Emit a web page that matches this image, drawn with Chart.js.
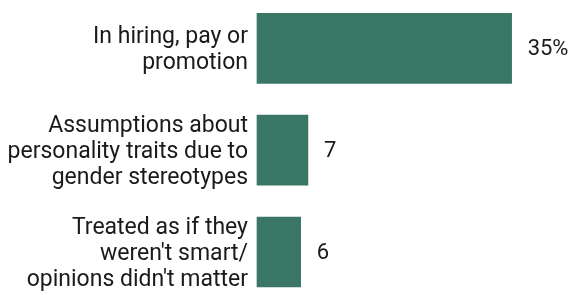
<!DOCTYPE html>
<html><head><meta charset="utf-8">
<script src="https://cdn.jsdelivr.net/npm/chart.js@4/dist/chart.umd.min.js"></script>
<style>html,body{margin:0;padding:0;background:#fff}#wrap{width:580px;height:295px}</style>
</head><body><div id="wrap"><canvas id="c" width="580" height="295"></canvas></div>
<script>
const categories = [
  ["In hiring, pay or", "promotion"],
  ["Assumptions about", "personality traits due to", "gender stereotypes"],
  ["Treated as if they", "weren't smart/", "opinions didn't matter"]
];
const values = [35, 7, 6];
const valueLabels = ["35%", "7", "6"];

const FONT = "Roboto, sans-serif";
const valuePlugin = {
  id: 'vals',
  afterDatasetsDraw(chart) {
    const ctx = chart.ctx;
    const meta = chart.getDatasetMeta(0);
    ctx.save();
    ctx.font = "22px " + FONT;
    ctx.fillStyle = "#1a1a1a";
    ctx.textAlign = "left";
    ctx.textBaseline = "middle";
    meta.data.forEach((bar, i) => {
      ctx.fillText(valueLabels[i], bar.x + 16, bar.y + 1);
    });
    ctx.restore();
  }
};

new Chart(document.getElementById('c'), {
  type: 'bar',
  data: { labels: categories, datasets: [{ data: values, backgroundColor: '#3a7666', barThickness: 70, clip: false }] },
  options: {
    indexAxis: 'y',
    responsive: false,
    animation: false,
    layout: { padding: { top: 44, bottom: 43, right: 32, left: 0 } },
    plugins: { legend: { display: false }, tooltip: { enabled: false } },
    scales: {
      x: { display: false, min: 0, max: 40 },
      y: {
        offset: false,
        grid: { display: false, drawTicks: false, offset: false },
        border: { display: false },
        ticks: { color: '#1a1a1a', font: { family: FONT, size: 23, lineHeight: 1.14 }, padding: 9, labelOffset: 2 },
        afterFit(s) { s.width = 257; }
      }
    }
  },
  plugins: [valuePlugin]
});
</script></body></html>
